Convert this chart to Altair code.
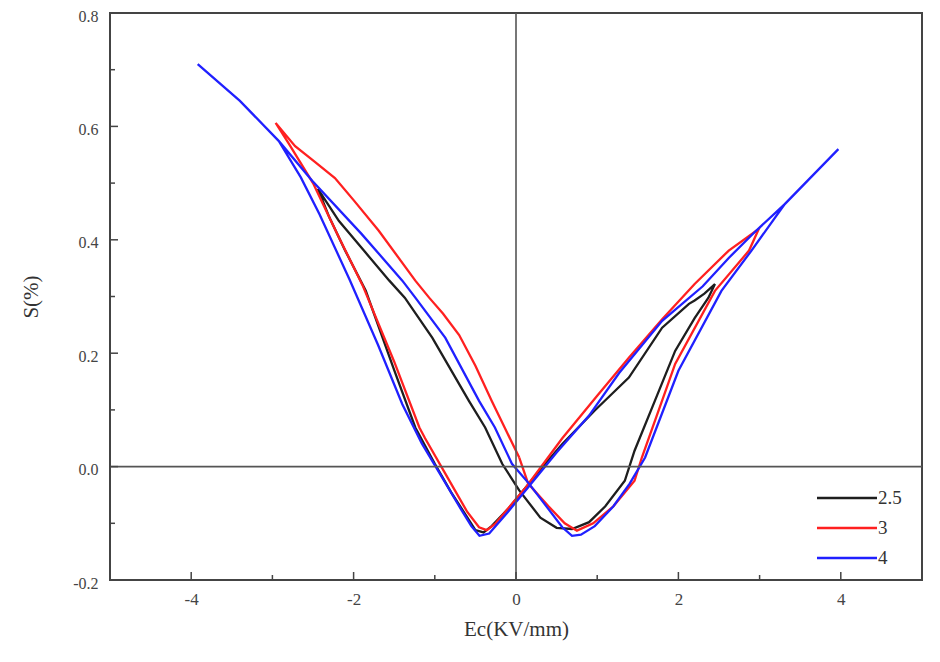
import altair as alt
import pandas as pd

# ---- data (E in KV/mm, S in %) ----
black_x = [-2.44, -2.18, -1.85, -1.56, -1.37, -1.03, -0.58, -0.38, -0.17, 0.04, 0.30, 0.50, 0.69, 0.90, 1.10,
           1.34, 1.46, 1.71, 1.96, 2.20, 2.37, 2.45, 2.32, 2.20, 2.13, 1.80, 1.39, 1.18, 0.97, 0.57, 0.30,
           0.13, -0.10, -0.30, -0.40, -0.50, -0.62, -0.80, -1.00, -1.24, -1.50, -1.85, -2.10, -2.30, -2.44]
black_y = [0.490, 0.433, 0.377, 0.328, 0.298, 0.227, 0.116, 0.069, 0.005, -0.042, -0.090, -0.108, -0.110, -0.098, -0.070,
           -0.025, 0.028, 0.116, 0.204, 0.262, 0.298, 0.322, 0.305, 0.293, 0.287, 0.245, 0.157, 0.128, 0.099, 0.040, -0.005,
           -0.035, -0.075, -0.105, -0.116, -0.112, -0.085, -0.045, 0.005, 0.069, 0.170, 0.310, 0.380, 0.440, 0.490]

red_x = [0.04, -0.14, -0.30, -0.50, -0.70, -0.90, -1.07, -1.24, -1.69, -2.00, -2.23, -2.50, -2.72, -2.96, -2.80,
         -2.50, -2.20, -1.89, -1.50, -1.19, -1.12, -0.80, -0.60, -0.455, -0.36, -0.25, 0.13, 0.57, 1.00, 1.39,
         1.80, 2.20, 2.62, 2.99, 2.87, 2.45, 1.96, 1.55, 1.46, 1.20, 0.95, 0.75, 0.60, 0.40, 0.15, 0.04]
red_y = [0.016, 0.069, 0.116, 0.178, 0.232, 0.270, 0.298, 0.328, 0.416, 0.470, 0.509, 0.540, 0.565, 0.606, 0.570,
         0.500, 0.410, 0.320, 0.185, 0.069, 0.050, -0.030, -0.080, -0.107, -0.112, -0.100, -0.035, 0.050, 0.125, 0.192,
         0.260, 0.322, 0.381, 0.419, 0.381, 0.310, 0.181, 0.016, -0.025, -0.070, -0.100, -0.113, -0.100, -0.070, -0.030,
         0.016]

blue_x = [-3.92, -3.40, -2.92, -2.65, -2.42, -2.05, -1.70, -1.40, -1.16, -0.91, -0.70, -0.55, -0.45, -0.33, -0.10,
          0.13, 0.50, 0.90, 1.27, 1.80, 2.30, 2.62, 2.95, 3.31, 3.97, 3.31, 2.90, 2.53, 2.00, 1.59, 1.40, 1.20,
          0.97, 0.80, 0.69, 0.57, 0.40, 0.16, -0.05, -0.26, -0.455, -0.87, -1.24, -1.40, -1.90, -2.51, -2.92,
          -3.40, -3.92]
blue_y = [0.710, 0.645, 0.574, 0.510, 0.445, 0.330, 0.215, 0.110, 0.041, -0.019, -0.070, -0.105, -0.122, -0.118, -0.080,
          -0.040, 0.025, 0.090, 0.165, 0.257, 0.318, 0.368, 0.415, 0.463, 0.560, 0.463, 0.381, 0.310, 0.169, 0.016,
          -0.030, -0.070, -0.105, -0.120, -0.122, -0.107, -0.075, -0.030, 0.005, 0.069, 0.116, 0.227, 0.298, 0.328,
          0.410, 0.504, 0.574, 0.645, 0.710]

series_names = ["2.5", "3", "4"]
series_colors = ["#1e1e1e", "#ff2020", "#2020ff"]

x_major = [-4, -2, 0, 2, 4]
x_minor = [-3, -1, 1, 3]
y_major = [-0.2, 0.0, 0.2, 0.4, 0.6, 0.8]
y_minor = [-0.1, 0.1, 0.3, 0.5, 0.7]

# ---- build tables ----
rows = []
for name, xs, ys in [("2.5", black_x, black_y), ("3", red_x, red_y), ("4", blue_x, blue_y)]:
    for i, (xv, yv) in enumerate(zip(xs, ys)):
        rows.append({"series": name, "i": i, "E": xv, "S": yv})
df = pd.DataFrame(rows)

W, H = 812, 567
FONT = "'Liberation Serif', 'Times New Roman', 'DejaVu Serif', serif"

xscale = alt.Scale(domain=[-5, 5], nice=False, zero=False)
yscale = alt.Scale(domain=[-0.2, 0.8], nice=False, zero=False)
cscale = alt.Scale(domain=series_names, range=series_colors)

xaxis = alt.Axis(title="Ec(KV/mm)", values=x_major, ticks=False, domain=False, grid=False,
                 labelExpr="replace(format(datum.value, 'd'), '\u2212', '-')",
                 labelFont=FONT, labelFontSize=17, labelColor="#444", labelPadding=11,
                 titleFont=FONT, titleFontSize=21, titleFontWeight="normal", titleColor="#333",
                 titlePadding=11)
yaxis = alt.Axis(title="S(%)", values=y_major, ticks=False, domain=False, grid=False,
                 labelExpr="replace(format(datum.value, '.1f'), '\u2212', '-')",
                 labelFont=FONT, labelFontSize=16, labelColor="#444", labelPadding=12, labelOffset=3,
                 titleFont=FONT, titleFontSize=21, titleFontWeight="normal", titleColor="#333",
                 titlePadding=31)

X = lambda f: alt.X(f, scale=xscale, axis=xaxis, title="Ec(KV/mm)")
Y = lambda f: alt.Y(f, scale=yscale, axis=yaxis, title="S(%)")

lines = alt.Chart(df).mark_line(strokeWidth=2.3, clip=True).encode(
    x=X("E:Q"), y=Y("S:Q"),
    color=alt.Color("series:N", scale=cscale, legend=None),
    order="i:Q",
    detail="series:N",
)

zero_df = pd.DataFrame({"v": [0.0]})
hzero = alt.Chart(zero_df).mark_rule(color="#555", strokeWidth=1.6).encode(y=Y("v:Q"))
vzero = alt.Chart(zero_df).mark_rule(color="#555", strokeWidth=1.6).encode(x=X("v:Q"))

def yticks(vals, length):
    d = pd.DataFrame({"v": vals})
    return alt.Chart(d).mark_rule(color="#444", strokeWidth=1.5).encode(
        y=Y("v:Q"), x=alt.value(0), x2=alt.value(length))

def xticks(vals, length):
    d = pd.DataFrame({"v": vals})
    return alt.Chart(d).mark_rule(color="#444", strokeWidth=1.5).encode(
        x=X("v:Q"), y=alt.value(H), y2=alt.value(H - length))

main = alt.layer(lines, hzero, vzero, yticks(y_major, 8), yticks(y_minor, 5),
                 xticks(x_major, 8), xticks(x_minor, 5))

# ---- legend (bottom right, inside plot) ----
leg_df = pd.DataFrame({"series": series_names, "rank": [0, 1, 2]})
leg_y = alt.Y("rank:Q", scale=alt.Scale(domain=[0, 2], range=[485, 545]), axis=None)
leg_rule = alt.Chart(leg_df).mark_rule(strokeWidth=2.6).encode(
    x=alt.value(707), x2=alt.value(767), y=leg_y,
    color=alt.Color("series:N", scale=cscale, legend=None))
leg_text = alt.Chart(leg_df).mark_text(align="left", baseline="middle", font=FONT, fontSize=19,
                                        color="#333").encode(
    x=alt.value(768), y=leg_y, text="series:N")
legend = alt.layer(leg_rule, leg_text)

chart = alt.layer(main, legend).resolve_scale(y="independent", color="independent").properties(
    width=W, height=H,
    autosize=alt.AutoSizeParams(type="none"),
    padding={"left": 102, "top": 5, "right": 8, "bottom": 70},
).configure_view(stroke="#444", strokeWidth=2)

chart.save("out.html", embed_options={"renderer": "svg", "actions": False})
